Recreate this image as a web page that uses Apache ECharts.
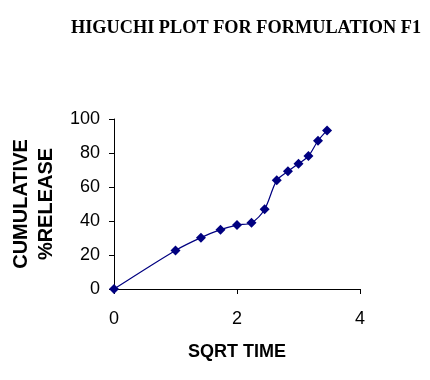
<!DOCTYPE html>
<html>
<head>
<meta charset="utf-8">
<script src="https://cdn.jsdelivr.net/npm/echarts@6/dist/echarts.min.js"></script>
<style>html,body{margin:0;padding:0;background:#fff;}#c{width:430px;height:380px;}</style>
</head>
<body>
<div id="c"></div>
<script>
var titleText = 'HIGUCHI PLOT FOR FORMULATION F1';
var sqrtTime = [0, 1, 1.414, 1.732, 2, 2.236, 2.449, 2.646, 2.828, 3, 3.162, 3.317, 3.464];
var cumRelease = [0, 22.7, 30.2, 34.9, 37.6, 39.0, 46.9, 63.9, 69.2, 73.7, 78.2, 87.2, 93.3];
var xTicks = [0, 2, 4];
var yTicks = [0, 20, 40, 60, 80, 100];

var pts = sqrtTime.map(function (x, i) { return [x, cumRelease[i]]; });
var chart = echarts.init(document.getElementById('c'), null, {renderer: 'canvas'});
chart.setOption({
  animation: false,
  backgroundColor: '#ffffff',
  graphic: [{
    type: 'text', x: 246, y: 28,
    style: {text: titleText, align: 'center', verticalAlign: 'middle',
      font: 'bold 18.3px "Liberation Serif"', fill: '#000'}
  }],
  grid: {left: 114, right: 70, top: 119, bottom: 91, containLabel: false, outerBoundsMode: 'none'},
  xAxis: {
    type: 'value', min: xTicks[0], max: xTicks[xTicks.length - 1], interval: 2,
    name: 'SQRT TIME', nameLocation: 'middle', nameGap: 54,
    nameTextStyle: {fontFamily: 'Liberation Sans', fontWeight: 'bold', fontSize: 18, color: '#000'},
    axisLine: {lineStyle: {color: '#000', width: 1}},
    axisTick: {show: true, inside: false, length: 5, lineStyle: {color: '#000'}},
    axisLabel: {fontFamily: 'Liberation Sans', fontSize: 18, color: '#000', margin: 21},
    splitLine: {show: false}
  },
  yAxis: {
    type: 'value', min: yTicks[0], max: yTicks[yTicks.length - 1], interval: 20,
    name: 'CUMULATIVE\n%RELEASE', nameLocation: 'middle', nameGap: 54, nameRotate: 90,
    nameTextStyle: {fontFamily: 'Liberation Sans', fontWeight: 'bold', fontSize: 20, color: '#000', lineHeight: 25},
    axisLine: {show: true, lineStyle: {color: '#000', width: 1}},
    axisTick: {show: true, inside: false, length: 5, lineStyle: {color: '#000'}},
    axisLabel: {fontFamily: 'Liberation Sans', fontSize: 18, color: '#000', margin: 14},
    splitLine: {show: false}
  },
  series: [{
    type: 'line',
    data: pts,
    smooth: 0.3,
    symbol: 'diamond',
    symbolSize: 10,
    lineStyle: {color: '#000080', width: 1.2},
    itemStyle: {color: '#000080'}
  }]
});
</script>
</body>
</html>
